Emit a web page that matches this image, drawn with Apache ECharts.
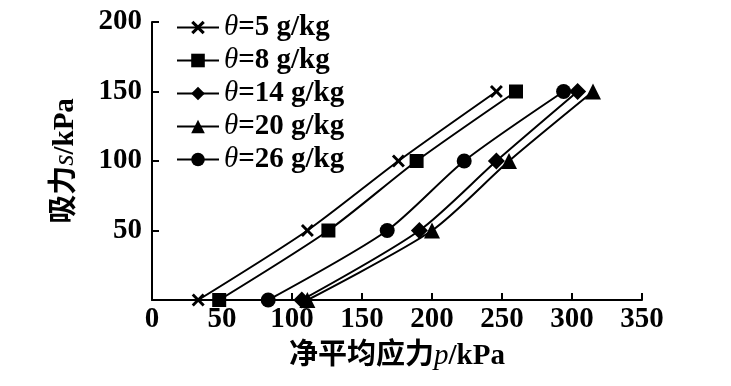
<!DOCTYPE html>
<html>
<head>
<meta charset="utf-8">
<script src="https://cdn.jsdelivr.net/npm/echarts@6/dist/echarts.min.js"></script>
<style>html,body{margin:0;padding:0;background:#fff;}#c{width:731px;height:386px;}</style>
</head>
<body>
<div id="c"></div>
<script>
// Data
var suction = [0, 50, 100, 150];
var seriesNames = ['5', '8', '14', '20', '26'];
var p5 = [33, 111, 176, 246];
var p8 = [48, 126, 189, 260];
var p14 = [107, 191, 246, 304];
var p20 = [111, 200, 255, 315];
var p26 = [83, 168, 223, 294];
var xTicks = [0, 50, 100, 150, 200, 250, 300, 350];
var yTicks = [0, 50, 100, 150, 200];

var serif = '"Liberation Serif", "Times New Roman", serif';
var cjk = '"Liberation Serif", "Noto Sans CJK SC", serif';
var crossPath = 'path://M0,1.6L1.6,0L5,3.4L8.4,0L10,1.6L6.6,5L10,8.4L8.4,10L5,6.6L1.6,10L0,8.4L3.4,5Z';

var values = [p5, p8, p14, p20, p26];
var symbols = [crossPath, 'rect', 'diamond', 'triangle', 'circle'];
var sizes = [13, 14, 17, 16, 15];
var FS = 29;

function pairs(xs){ return xs.map(function(x,i){ return [x, suction[i]]; }); }

var series = seriesNames.map(function(n, k){
  return {
    name: 'θ=' + n + ' g/kg',
    type: 'line',
    data: pairs(values[k]),
    symbol: symbols[k],
    symbolSize: sizes[k],
    smooth: 0.25,
    clip: false,
    lineStyle: {color: '#000', width: 2},
    itemStyle: {color: '#000'}
  };
});

var nameRich = {
  c: {fontFamily: cjk, fontWeight: 'bold', fontSize: FS, color: '#000'},
  i: {fontFamily: serif, fontStyle: 'italic', fontSize: FS, color: '#000'},
  b: {fontFamily: serif, fontWeight: 'bold', fontSize: FS, color: '#000'}
};

var chart = echarts.init(document.getElementById('c'));
chart.setOption({
  animation: false,
  backgroundColor: '#fff',
  grid: {left: 152, right: 89, top: 22, bottom: 86},
  legend: {
    orient: 'vertical',
    left: 171,
    top: 8,
    itemGap: 4,
    itemWidth: 42,
    itemHeight: 17,
    data: series.map(function(s){ return s.name; }),
    formatter: function(name){
      return '{i|θ}{b|' + name.slice(1) + '}';
    },
    textStyle: {
      color: '#000',
      rich: {
        i: {fontFamily: serif, fontStyle: 'italic', fontWeight: 'normal', fontSize: FS, color: '#000', lineHeight: 29},
        b: {fontFamily: serif, fontWeight: 'bold', fontSize: FS, color: '#000', lineHeight: 29}
      }
    }
  },
  xAxis: {
    type: 'value', min: 0, max: 350, interval: 50,
    name: '{c|净平均应力}{i|p}{b|/kPa}',
    nameLocation: 'middle', nameGap: 42,
    nameTextStyle: {rich: nameRich},
    axisLine: {lineStyle: {color: '#000', width: 2}},
    axisTick: {inside: true, length: 7, lineStyle: {color: '#000', width: 2}},
    axisLabel: {color: '#000', fontFamily: serif, fontWeight: 'bold', fontSize: FS, margin: 5},
    splitLine: {show: false}
  },
  yAxis: {
    type: 'value', min: 0, max: 200, interval: 50,
    name: '{c|吸力}{i|s}{b|/kPa}',
    nameLocation: 'middle', nameGap: 72, nameRotate: 90,
    nameTextStyle: {rich: nameRich},
    axisLine: {show: true, lineStyle: {color: '#000', width: 2}},
    axisTick: {show: true, inside: true, length: 7, lineStyle: {color: '#000', width: 2}},
    axisLabel: {
      color: '#000', fontFamily: serif, fontWeight: 'bold', fontSize: FS, margin: 10,
      formatter: function(v){ return v === 0 ? '' : String(v); }
    },
    splitLine: {show: false}
  },
  series: series
});
</script>
</body>
</html>
